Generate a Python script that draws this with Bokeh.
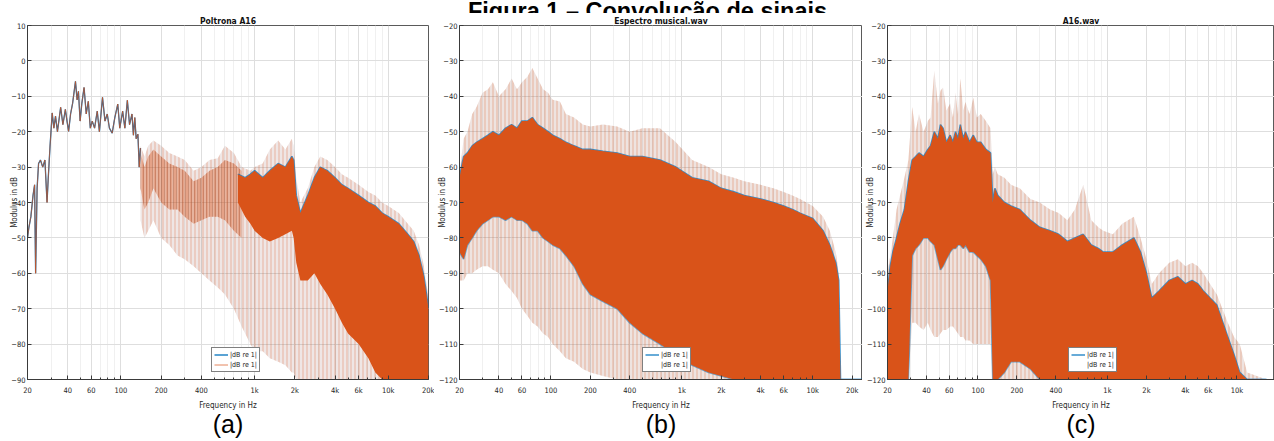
from bokeh.plotting import figure
from bokeh.models import (Range1d, FixedTicker, LogAxis, Label, Legend, LegendItem,
                          CustomJSTickFormatter, ColumnDataSource)
from bokeh.layouts import row, column
from bokeh.embed import file_html
from bokeh.resources import INLINE

# ---------------- data ----------------
FIG_TITLE = "Figura 1 \u2013 Convolu\u00e7\u00e3o de sinais"
X_TICKS = [20, 40, 60, 100, 200, 400, 1000, 2000, 4000, 6000, 10000, 20000]
X_MINOR = [30, 50, 70, 80, 90, 300, 500, 600, 700, 800, 900, 3000, 5000, 7000, 8000, 9000]
LEGEND_LABELS = ["|dB re 1|", "|dB re 1|"]
TITLES = ["Poltrona A16", "Espectro musical.wav", "A16.wav"]
TAGS = ["(a)", "(b)", "(c)"]
X_LABEL = "Frequency in Hz"
Y_LABEL = "Modulus in dB"

# Panel (a) - low frequency trace
A_TRACE_F = [20, 20.5, 21.2, 22, 22.6, 23, 23.6, 24.2, 25, 26, 27, 28, 28.6, 29.5, 30.6, 31.5,
             32.4, 33.5, 35.4, 36.8, 38.4, 39.5, 40.6, 42, 43.5, 45.7, 47, 48.1, 49.5, 51, 53, 55,
             57, 59, 61, 63.5, 66.5, 69, 72.8, 76, 79, 82, 86, 90, 94.7, 98, 103, 107, 111.7,
             116, 121, 124, 127, 130, 134, 137, 140]
A_TRACE_DB = [-50, -47, -44, -38, -35, -60, -36, -29, -28, -30, -28, -40, -33, -24, -14.7, -19,
              -15.6, -20, -13.1, -18, -13.7, -17, -19.9, -15, -12, -5.8, -11, -8.6, -17, -12, -7.5, -15,
              -11.4, -19, -17, -19, -14.2, -20, -10.3, -17, -15, -19, -20.4, -16, -12.2, -19, -14.2, -19, -11.1,
              -18, -15, -21, -16, -22, -20.7, -30, -24.6]
# Panel (a) - spectrum envelopes
A_F = [140, 150, 160, 175, 200, 230, 265, 300, 350, 400, 460, 530, 600, 700, 800, 930, 1000, 1150,
       1300, 1500, 1700, 1900, 1960, 2050, 2200, 2500, 2800, 3100, 3500, 4000, 4500, 5000, 6000,
       7100, 8000, 9000, 10000, 12000, 14000, 15500, 17000, 18500, 20000]
A_PEAK = [-24, -27, -24, -22.5, -24, -26, -27, -28, -31, -30, -28, -27.5, -24, -26, -30, -31, -30, -29,
          -25, -22.5, -25, -22, -24, -33, -40, -36, -30, -27, -28, -30, -32, -33, -35,
          -37, -38, -40, -41, -43, -46, -48, -52, -58, -67]
A_FLOOR = [-45, -50, -48, -45, -50, -52, -55, -56, -58, -60, -62, -64, -66, -70, -75, -80, -82, -82,
           -84, -85, -86, -88, -88, -90, -90, -90, -90, -90, -90, -90, -90, -90, -90,
           -90, -90, -90, -90, -90, -90, -90, -90, -90, -90]
A_MID_F = [140, 150, 160, 175, 200, 230, 265, 300, 350, 400, 460, 530, 600, 700, 800]
A_MID_HI = [-26, -30, -27, -25, -27, -29, -30, -31, -34, -33, -31, -30, -28, -29, -31]
A_MID_LO = [-36, -42, -40, -36, -40, -42, -42, -44, -46, -45, -44, -44, -45, -48, -50]
A_DENSE_F = [750, 850, 930, 1000, 1150, 1300, 1500, 1700, 1900, 1960, 2050, 2200, 2500, 2800,
             3100, 3500, 4000, 4500, 5000, 6000, 7100, 8000, 9000, 10000, 12000, 14000, 15500,
             17000, 18500, 20000]
A_DENSE_HI = [-32, -33, -32, -31, -33, -31, -29, -30, -27, -28, -38, -43, -38, -33,
              -30, -31, -33, -35, -36, -38, -40, -41, -43, -44, -46, -49, -51, -55, -61, -70]
A_DENSE_LO = [-40, -44, -46, -48, -50, -51, -50, -49, -48, -50, -57, -62, -62, -60,
              -63, -66, -70, -74, -77, -80, -84, -88, -90, -90, -90, -90, -90, -90, -90, -90]

# Panel (b)
B_F = [20, 21.5, 23, 25, 27, 30, 33, 36, 40, 45, 50, 55, 60, 66, 72, 79, 87, 95, 103, 117, 130, 150,
       175, 200, 250, 320, 400, 500, 680, 900, 1200, 1600, 2000, 2500, 3000, 4000, 5000, 6000, 7000,
       8000, 10000, 12000, 13500, 15000, 15800, 16300, 24000]
B_PEAK = [-62, -52, -50, -45, -43, -39, -38, -36, -40, -38, -35, -38, -36, -34.5, -32, -35, -38, -39,
          -41, -41.5, -45, -46, -48, -48.5, -48, -48.5, -50, -49, -49, -53, -58, -60, -62, -63, -64,
          -65, -66, -67, -68, -69, -71, -74, -78, -84, -90, -120, -120]
B_TOP = [-63, -57, -56, -54, -53, -52, -51, -50, -51, -49, -48, -49, -47, -47, -46, -48, -49, -50,
         -51, -52, -53, -54, -55, -55, -55.5, -56, -57, -57, -58, -60, -63, -64, -66, -67, -68,
         -69, -70, -71, -72, -73, -74.5, -78, -82, -87, -92, -120, -120]
B_BOT = [-84, -86, -82, -80, -78, -76, -75, -74, -74, -75, -74, -75, -75, -76, -78, -78, -80, -81,
         -82, -83, -85, -88, -93, -96, -98, -100, -104, -107, -110, -113, -116, -118, -119, -120, -120,
         -120, -120, -120, -120, -120, -120, -120, -120, -120, -120, -120, -120]
B_FLOOR = [-92, -92, -90, -90, -89, -88, -88, -89, -90, -93, -95, -97, -100, -102, -104, -105, -107,
           -108, -110, -112, -114, -115, -117, -118, -119, -120, -120, -120, -120, -120, -120, -120,
           -120, -120, -120, -120, -120, -120, -120, -120, -120, -120, -120, -120, -120, -120, -120]

# Panel (c)
C_F = [20, 21, 22, 23.5, 25, 27, 29, 31, 33, 35, 38, 41, 43, 46, 49, 51.3, 53.7, 57, 61, 64, 67, 70,
       73, 77, 80, 86, 92, 98, 105, 115, 125, 130, 135, 142, 160, 180, 210, 254, 300, 360, 420, 490,
       560, 650, 750, 850, 928, 1100, 1300, 1600, 1800, 2000, 2200, 2500, 3000, 3500, 4000, 4500,
       5000, 5500, 6200, 7000, 8500, 9500, 10500, 12000, 16900]
C_PEAK = [-90, -85, -80, -72, -68, -63, -58, -43, -50, -45, -50, -47, -46, -32.7, -42, -38.4, -37.5,
          -44, -42, -46, -39, -45, -35, -44, -41.6, -45, -40.4, -46, -45, -47, -49, -62, -60, -62,
          -63, -65, -66, -69, -70, -72, -73, -75, -72, -65, -75, -77, -78, -79, -76, -74, -80, -86,
          -93, -90, -87, -86, -88, -87, -88, -90, -93, -96, -104, -108, -110, -118, -120]
C_TOP = [-95, -88, -84, -80, -76, -72, -64, -58, -57, -56, -57, -55, -54, -50, -52, -48, -49, -53,
         -51, -53, -50, -52, -48, -52, -50, -53, -51, -53, -53, -55, -56, -70, -66, -68, -70, -71,
         -72, -75, -77, -78, -79, -81, -80, -79, -82, -83, -84, -84, -82, -80, -84, -90, -97, -95,
         -92, -91, -93, -92, -93, -95, -97, -99, -108, -113, -118, -120, -120]
C_BOT = [-120, -120, -120, -120, -120, -120, -120, -85, -83, -82, -80, -80, -81, -82, -86, -89, -88,
         -86, -84, -83, -83, -82, -82, -83, -82, -84, -84, -85, -86, -88, -92, -120, -120, -120,
         -118, -115, -115, -117, -120, -120, -120, -120, -120, -120, -120, -120, -120, -120, -120,
         -120, -120, -120, -120, -120, -120, -120, -120, -120, -120, -120, -120, -120, -120, -120,
         -120, -120, -120]
C_FLOOR = [-120, -120, -120, -120, -120, -120, -120, -104, -104, -105, -106, -104, -106, -108, -108,
           -107, -106, -106, -105, -105, -106, -107, -108, -108, -109, -109, -110, -110, -110, -110,
           -110, -120, -120, -120, -120, -120, -120, -120, -120, -120, -120, -120, -120, -120, -120,
           -120, -120, -120, -120, -120, -120, -120, -120, -120, -120, -120, -120, -120, -120, -120,
           -120, -120, -120, -120, -120, -120, -120]

# ---------------- styling ----------------
BLUE = "#0072BD"
ORANGE = "#D95319"
NARROW = "'Liberation Sans Narrow', 'DejaVu Sans Condensed', 'Liberation Sans', sans-serif"
ARIAL = "'Liberation Sans', Arial, sans-serif"
W = 1274
TOP_H = 13
H = 441 - TOP_H
FRAME_TOP = 24 - TOP_H
FRAME_H = 355
AXIS_COL = "#3a3a3a"


def style_axis(ax, size="8px"):
    ax.major_tick_in = 4
    ax.major_tick_out = 0
    ax.minor_tick_in = 2
    ax.minor_tick_out = 0
    ax.axis_line_color = AXIS_COL
    ax.major_tick_line_color = AXIS_COL
    ax.minor_tick_line_color = AXIS_COL
    ax.major_label_text_font = NARROW
    ax.major_label_text_font_size = size
    ax.major_label_text_color = "#262626"
    ax.axis_label_text_font = NARROW
    ax.axis_label_text_font_size = "8px"
    ax.axis_label_text_font_style = "normal"
    ax.axis_label_text_color = "#262626"


def make_panel(width, left, right, x_end, y_lo, y_hi, title, tag):
    p = figure(width=width, height=H, x_axis_type="log", x_range=Range1d(20, x_end),
               y_range=Range1d(y_lo, y_hi), output_backend="svg", toolbar_location=None,
               title=title, min_border_left=left, min_border_right=right,
               min_border_top=FRAME_TOP, min_border_bottom=H - FRAME_TOP - FRAME_H)
    p.outline_line_color = "#5a5a5a"
    p.background_fill_color = "white"
    p.title.align = "center"
    p.title.text_font = NARROW
    p.title.text_font_size = "8.5px"
    p.title.text_font_style = "bold"
    p.title.text_color = "#111111"
    p.title.standoff = 0
    p.title.offset = 0

    xa = p.below[0]
    xa.ticker = FixedTicker(ticks=X_TICKS, minor_ticks=X_MINOR)
    xa.formatter = CustomJSTickFormatter(code="return tick >= 1000 ? (tick/1000) + 'k' : String(tick);")
    style_axis(xa, "7.5px")
    xa.major_label_standoff = 6
    xa.axis_label = X_LABEL
    xa.axis_label_standoff = 3

    tag_axis = LogAxis(ticker=FixedTicker(ticks=[]), axis_label=tag, axis_line_color=None,
                       major_tick_line_color=None, minor_tick_line_color=None,
                       major_tick_out=0, major_tick_in=0, major_label_standoff=0,
                       axis_label_standoff=-3, axis_label_text_font=ARIAL,
                       axis_label_text_font_size="25px", axis_label_text_font_style="normal",
                       axis_label_text_color="#000000")
    p.add_layout(tag_axis, "below")

    ya = p.left[0]
    ya.ticker = FixedTicker(ticks=list(range(y_lo, y_hi + 1, 10)))
    style_axis(ya, "7.5px")
    ya.major_label_standoff = 2
    ya.axis_label = Y_LABEL
    ya.axis_label_standoff = -11

    p.xgrid.grid_line_color = "#DEDEDE"
    p.xgrid.minor_grid_line_color = "#F0F0F0"
    p.ygrid.grid_line_color = "#DEDEDE"
    return p


def add_spectrum(p, f, peak, floor, top, bot):
    src = ColumnDataSource(dict(f=f, peak=peak, floor=floor, top=top, bot=bot))
    p.varea(x="f", y1="floor", y2="peak", source=src, fill_color=BLUE, fill_alpha=0.05)
    p.varea(x="f", y1="floor", y2="peak", source=src, fill_color=ORANGE, fill_alpha=0.12,
            hatch_pattern="vertical_line", hatch_color=ORANGE, hatch_alpha=0.35,
            hatch_scale=4, hatch_weight=1)
    bl = p.line(x="f", y="top", source=src, line_color=BLUE, line_width=1.6, line_alpha=0.75)
    p.line(x="f", y="bot", source=src, line_color=BLUE, line_width=1.6, line_alpha=0.55)
    p.varea(x="f", y1="bot", y2="top", source=src, fill_color=ORANGE, fill_alpha=1.0)
    ol = p.line(x=[], y=[], line_color=ORANGE, line_width=1.0)
    return bl, ol


def add_legend(p, x, blue_r, orange_r):
    leg = Legend(items=[LegendItem(label=LEGEND_LABELS[0], renderers=[blue_r]),
                        LegendItem(label=LEGEND_LABELS[1], renderers=[orange_r])],
                 location=(x, 7), orientation="vertical",
                 label_text_font=NARROW, label_text_font_size="7px", label_text_color="#222222",
                 glyph_width=14, glyph_height=9, label_height=9, label_standoff=2,
                 padding=2, spacing=1, margin=0,
                 border_line_color="#000000", border_line_width=0.8,
                 background_fill_color="white", background_fill_alpha=1.0)
    p.add_layout(leg)


# ---------------- top strip with the figure caption ----------------
pt = figure(width=W, height=TOP_H, x_range=Range1d(0, W), y_range=Range1d(0, TOP_H),
            output_backend="svg", toolbar_location=None, title=None, min_border=0,
            x_axis_location=None, y_axis_location=None)
pt.grid.visible = False
pt.outline_line_color = None
pt.add_layout(Label(x=647, y=3, text=FIG_TITLE, text_align="center", text_baseline="alphabetic",
                    text_font=ARIAL, text_font_size="23.5px", text_font_style="bold",
                    text_color="#000000"))

# ---------------- panel (a) ----------------
pa = make_panel(434, 27, 6, 20000, -90, 10, TITLES[0], TAGS[0])
src_a = ColumnDataSource(dict(f=A_F, peak=A_PEAK, floor=A_FLOOR))
pa.varea(x="f", y1="floor", y2="peak", source=src_a, fill_color=BLUE, fill_alpha=0.05)
pa.varea(x="f", y1="floor", y2="peak", source=src_a, fill_color=ORANGE, fill_alpha=0.1,
         hatch_pattern="vertical_line", hatch_color=ORANGE, hatch_alpha=0.35,
         hatch_scale=4, hatch_weight=1)
src_am = ColumnDataSource(dict(f=A_MID_F, hi=A_MID_HI, lo=A_MID_LO))
pa.varea(x="f", y1="lo", y2="hi", source=src_am, fill_color=ORANGE, fill_alpha=0.35,
         hatch_pattern="vertical_line", hatch_color="#9a4a2a", hatch_alpha=0.35,
         hatch_scale=3, hatch_weight=1)
src_ad = ColumnDataSource(dict(f=A_DENSE_F, hi=A_DENSE_HI, lo=A_DENSE_LO))
pa.line(x="f", y="hi", source=src_ad, line_color=BLUE, line_width=1.6, line_alpha=0.75)
pa.varea(x="f", y1="lo", y2="hi", source=src_ad, fill_color=ORANGE, fill_alpha=1.0)
src_at = ColumnDataSource(dict(f=A_TRACE_F, db=A_TRACE_DB))
a_blue = pa.line(x="f", y="db", source=src_at, line_color=BLUE, line_width=1.3)
a_orange = pa.line(x="f", y="db", source=src_at, line_color=ORANGE, line_width=1.0, line_alpha=0.7)
add_legend(pa, 184, a_blue, a_orange)

# ---------------- panel (b) ----------------
pb = make_panel(428, 25, 0, 24000, -120, -20, TITLES[1], TAGS[1])
b_blue, b_orange = add_spectrum(pb, B_F, B_PEAK, B_FLOOR, B_TOP, B_BOT)
add_legend(pb, 183, b_blue, b_orange)

# ---------------- panel (c) ----------------
pc = make_panel(412, 25, 0, 19500, -120, -20, TITLES[2], TAGS[2])
c_blue, c_orange = add_spectrum(pc, C_F, C_PEAK, C_FLOOR, C_TOP, C_BOT)
add_legend(pc, 181, c_blue, c_orange)

layout = column(pt, row(pa, pb, pc))
open("out.html", "w").write(file_html(layout, INLINE))
